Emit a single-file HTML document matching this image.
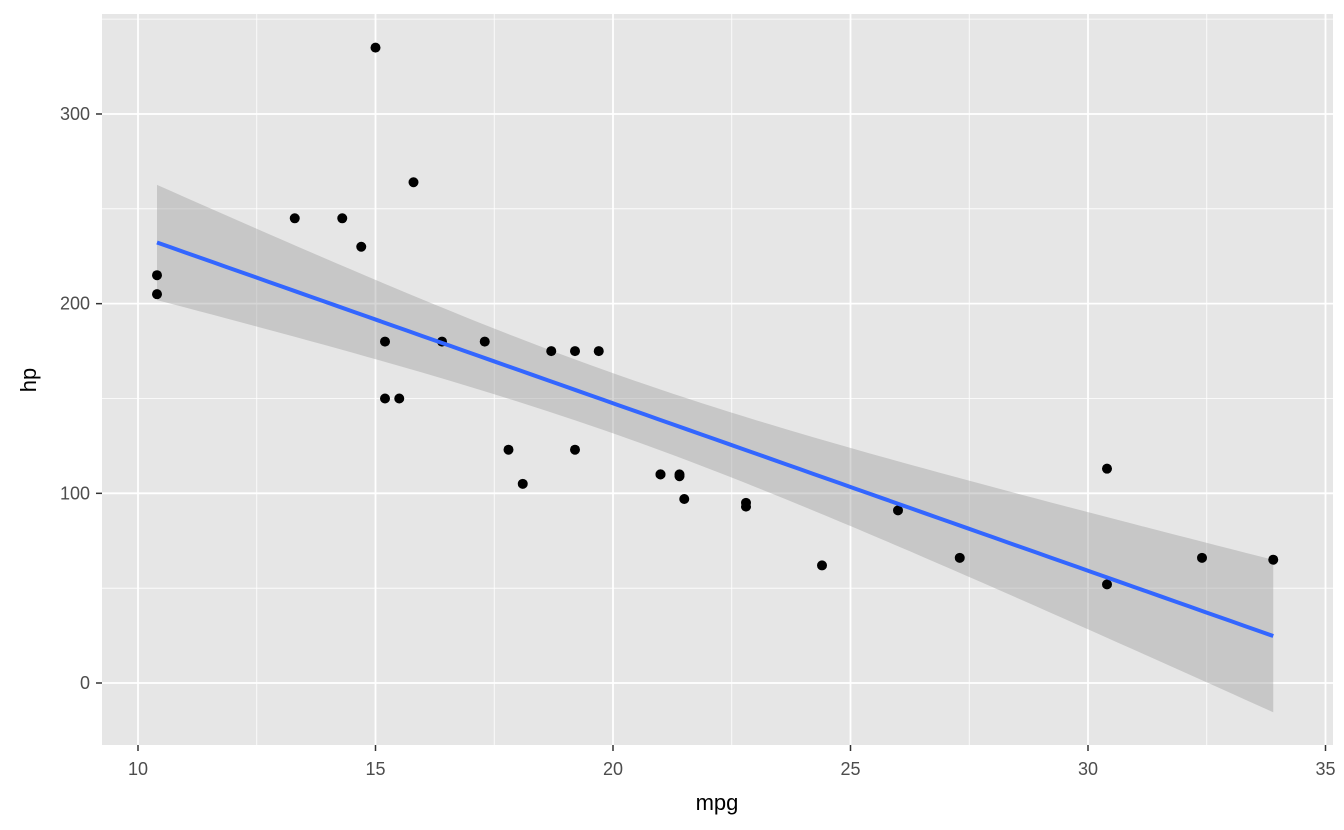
<!DOCTYPE html>
<html><head><meta charset="utf-8"><style>
html,body{margin:0;padding:0;background:#fff;}
svg{display:block;font-family:"Liberation Sans",Arial,sans-serif;}
</style></head><body>
<svg id="chart" width="1344" height="830">
<rect x="102" y="14" width="1231" height="731" fill="#e6e6e6"/>
<g id="grid"></g><g id="band"></g><g id="pts"></g><g id="axes"></g>
<text x="717" y="810" text-anchor="middle" font-size="22" fill="#000">mpg</text>
<text transform="translate(36,380) rotate(-90)" text-anchor="middle" font-size="22" fill="#000">hp</text>
</svg>
<script>
const mpg=[21,21,22.8,21.4,18.7,18.1,14.3,24.4,22.8,19.2,17.8,16.4,17.3,15.2,10.4,10.4,14.7,32.4,30.4,33.9,21.5,15.5,15.2,13.3,19.2,27.3,26,30.4,15.8,19.7,15,21.4];
const hp=[110,110,93,110,175,105,245,62,95,123,123,180,180,180,205,215,230,66,52,65,97,150,150,245,175,66,91,113,264,175,335,109];
const xTicks=[10,15,20,25,30,35];
const yTicks=[0,100,200,300];
const NS="http://www.w3.org/2000/svg";
const X=v=>138+(v-10)*47.5;
const Y=v=>683-v*1.8967;
function mk(tag,attrs,parent){const e=document.createElementNS(NS,tag);for(const k in attrs)e.setAttribute(k,attrs[k]);document.getElementById(parent).appendChild(e);return e;}
for(const v of xTicks){const m=v+2.5;if(m<35){const l=mk('line',{x1:X(m),x2:X(m),y1:14,y2:745,stroke:'#fff','stroke-width':0.8},'grid');}}
for(const v of [-50,50,150,250,350]){const y=Y(v);if(y>14&&y<745){const l=mk('line',{x1:102,x2:1333,y1:y,y2:y,stroke:'#fff','stroke-width':0.8},'grid');}}
for(const v of xTicks){const l=mk('line',{x1:X(v),x2:X(v),y1:14,y2:745,stroke:'#fff','stroke-width':1.8},'grid');
const t=mk('line',{x1:X(v),x2:X(v),y1:745,y2:751,stroke:'#333','stroke-width':1.5},'axes');
const s=mk('text',{x:X(v),y:775,'text-anchor':'middle','font-size':18,fill:'#4d4d4d'},'axes');s.textContent=v;}
for(const v of yTicks){const l=mk('line',{x1:102,x2:1333,y1:Y(v),y2:Y(v),stroke:'#fff','stroke-width':1.8},'grid');
const t=mk('line',{x1:96,x2:102,y1:Y(v),y2:Y(v),stroke:'#333','stroke-width':1.5},'axes');
const s=mk('text',{x:90,y:Y(v)+6,'text-anchor':'end','font-size':18,fill:'#4d4d4d'},'axes');s.textContent=v;}
const n=mpg.length,mx=mpg.reduce((a,b)=>a+b)/n,my=hp.reduce((a,b)=>a+b)/n;
let sxx=0,sxy=0;for(let i=0;i<n;i++){sxx+=(mpg[i]-mx)**2;sxy+=(mpg[i]-mx)*(hp[i]-my);}
const b=sxy/sxx,a=my-b*mx;let sse=0;for(let i=0;i<n;i++)sse+=(hp[i]-a-b*mpg[i])**2;
const sig=Math.sqrt(sse/(n-2)),tq=2.042;
const x0=Math.min(...mpg),x1=Math.max(...mpg);let up=[],lo=[],ln=[];
for(let k=0;k<=80;k++){const x=x0+(x1-x0)*k/80,f=a+b*x,se=sig*Math.sqrt(1/n+(x-mx)**2/sxx);
up.push(X(x)+','+Y(f+tq*se));lo.unshift(X(x)+','+Y(f-tq*se));ln.push(X(x)+','+Y(f));}
const band=mk('polygon',{points:up.concat(lo).join(' '),fill:'#999','fill-opacity':0.4},'band');

for(let i=0;i<n;i++){const c=mk('circle',{cx:X(mpg[i]),cy:Y(hp[i]),r:5,fill:'#000'},'pts');}
const line=mk('polyline',{points:ln.join(' '),fill:'none',stroke:'#3366ff','stroke-width':4},'band');

document.getElementById('pts').parentNode.appendChild(line);
</script>
</body></html>
